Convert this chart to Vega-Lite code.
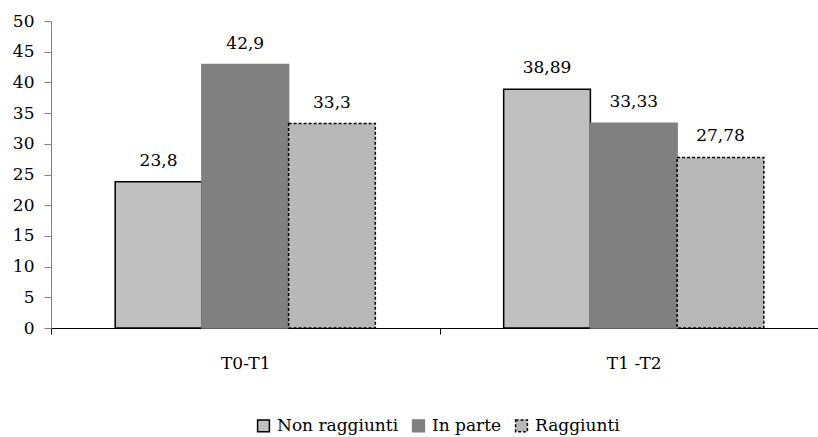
{
  "$schema": "https://vega.github.io/schema/vega-lite/v6.json",
  "autosize": {"type": "none"},
  "width": 767,
  "height": 307,
  "padding": {"left": 51, "top": 21, "right": 0, "bottom": 109},
  "background": "white",
  "data": {
    "values": [
      {"periodo": "T0-T1", "esito": "Non raggiunti", "valore": 23.8},
      {"periodo": "T0-T1", "esito": "In parte", "valore": 42.9},
      {"periodo": "T0-T1", "esito": "Raggiunti", "valore": 33.3},
      {"periodo": "T1 -T2", "esito": "Non raggiunti", "valore": 38.89},
      {"periodo": "T1 -T2", "esito": "In parte", "valore": 33.33},
      {"periodo": "T1 -T2", "esito": "Raggiunti", "valore": 27.78}
    ]
  },
  "encoding": {
    "x": {
      "field": "periodo",
      "type": "nominal",
      "sort": null,
      "scale": {"range": [0, 777], "paddingInner": 0, "paddingOuter": 0},
      "axis": {
        "title": null,
        "labelAngle": 0,
        "tickBand": "extent",
        "domainColor": "#000000",
        "tickColor": "#000000",
        "tickSize": 6,
        "labelPadding": 21,
        "labelFontSize": 17,
        "labelFont": "DejaVu Serif",
        "labelColor": "#000000"
      }
    },
    "xOffset": {
      "field": "esito",
      "type": "nominal",
      "sort": ["Non raggiunti", "In parte", "Raggiunti"],
      "scale": {"paddingInner": 0, "paddingOuter": 0.74}
    },
    "y": {
      "field": "valore",
      "type": "quantitative",
      "scale": {"domain": [0, 50], "nice": false},
      "axis": {
        "title": null,
        "values": [0, 5, 10, 15, 20, 25, 30, 35, 40, 45, 50],
        "grid": false,
        "domainColor": "#808080",
        "tickColor": "#808080",
        "tickSize": 7,
        "labelPadding": 10,
        "labelFontSize": 17,
        "labelFont": "DejaVu Serif",
        "labelColor": "#000000"
      }
    }
  },
  "layer": [
    {
      "mark": {"type": "bar", "strokeWidth": 1.5},
      "encoding": {
        "fill": {
          "field": "esito",
          "type": "nominal",
          "sort": ["Non raggiunti", "In parte", "Raggiunti"],
          "scale": {"domain": ["Non raggiunti", "In parte", "Raggiunti"], "range": ["#c0c0c0", "#808080", "#b8b8b8"]},
          "legend": {
            "title": null,
            "orient": "none",
            "direction": "horizontal",
            "legendX": 204,
            "legendY": 396,
            "symbolType": "square",
            "symbolSize": 140,
            "symbolStrokeWidth": 1.5,
            "labelFontSize": 17,
            "labelFont": "DejaVu Serif",
            "labelColor": "#000000",
            "labelOffset": 5,
            "columnPadding": 10
          }
        },
        "stroke": {
          "field": "esito",
          "type": "nominal",
          "sort": ["Non raggiunti", "In parte", "Raggiunti"],
          "scale": {"domain": ["Non raggiunti", "In parte", "Raggiunti"], "range": ["#000000", "#808080", "#000000"]},
          "legend": null
        },
        "strokeDash": {
          "field": "esito",
          "type": "nominal",
          "sort": ["Non raggiunti", "In parte", "Raggiunti"],
          "scale": {"domain": ["Non raggiunti", "In parte", "Raggiunti"], "range": [[1, 0], [1, 0], [3, 2]]},
          "legend": null
        }
      }
    },
    {
      "mark": {"type": "text", "baseline": "bottom", "dy": -12, "fontSize": 17, "font": "DejaVu Serif", "color": "#000000"},
      "encoding": {
        "text": {"field": "valore", "type": "quantitative", "format": "~g"}
      }
    }
  ],
  "config": {
    "view": {"stroke": null},
    "locale": {
      "number": {"decimal": ",", "thousands": ".", "grouping": [3], "currency": ["", " €"]}
    }
  }
}
